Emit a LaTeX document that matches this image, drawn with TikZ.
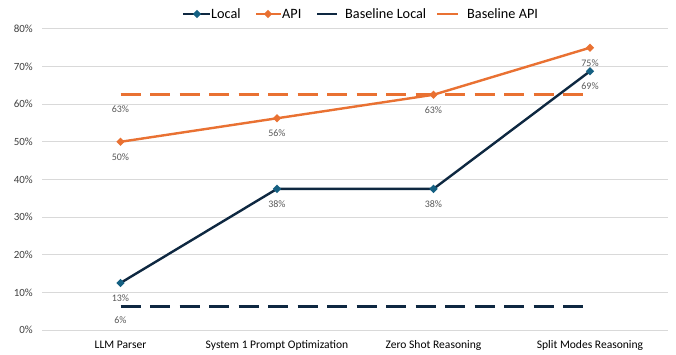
\documentclass[tikz,border=0pt]{standalone}
\usepackage{fontspec}
\setmainfont{Carlito}
\usetikzlibrary{shapes.geometric}
\definecolor{navy}{HTML}{0E2841}
\definecolor{teal}{HTML}{156082}
\definecolor{orng}{HTML}{E97132}
\definecolor{gridc}{HTML}{D9D9D9}
\definecolor{labc}{HTML}{595959}
\definecolor{axc}{HTML}{404040}
\tikzset{
  series/.style={line width=2.4bp, line join=round},
  baseline/.style={line width=2.6bp, dash pattern=on 20bp off 9.5bp},
  mk/.style={diamond, fill=#1, inner sep=0pt, minimum size=8.5bp},
  datalab/.style={font=\fontsize{10}{11}\selectfont, text=labc},
  ticklab/.style={font=\fontsize{11}{12}\selectfont, text=axc, anchor=east, inner sep=0pt},
  catlab/.style={font=\fontsize{11.6}{13}\selectfont, text=black},
  leglab/.style={font=\fontsize{14.3}{16}\selectfont, text=black, anchor=west, inner sep=0pt},
  gridline/.style={gridc, line width=0.8bp}
}
\begin{document}
\begin{tikzpicture}[x=1bp, y=-1bp]
\useasboundingbox (0,0) rectangle (676,354);
\fill[white] (0,0) rectangle (676,354);
% horizontal grid and value axis labels
\foreach \v in {0,10,...,80} {
  \pgfmathsetmacro{\yy}{330-\v*3.764}
  \draw[gridline] (42,\yy) -- (668,\yy);
  \node[ticklab] (tick\v) at (33,\yy) {\v\%};
}
% category labels
\node[catlab] (ca) at (120.5,345) {LLM Parser};
\node[catlab] (cb) at (277,345) {System 1 Prompt Optimization};
\node[catlab] (cc) at (433.5,345) {Zero Shot Reasoning};
\node[catlab] (cd) at (590,345) {Split Modes Reasoning};
% baselines
\coordinate (bl0) at (120.5,{330-6.25*3.764});
\coordinate (bl1) at (584,{330-6.25*3.764});
\coordinate (ba0) at (120.5,{330-62.5*3.764});
\coordinate (ba1) at (584,{330-62.5*3.764});
\draw[baseline, navy] (bl0) -- (bl1);
\draw[baseline, orng] (ba0) -- (ba1);
\node[datalab] (lbl) at ([yshift=-14bp]bl0) {6\%};
\node[datalab] (lba) at ([yshift=-14bp]ba0) {63\%};
% Local series
\coordinate (l1) at (120.5,{330-12.5*3.764});
\coordinate (l2) at (277,{330-37.5*3.764});
\coordinate (l3) at (433.5,{330-37.5*3.764});
\coordinate (l4) at (590,{330-68.75*3.764});
\draw[series, navy] (l1) -- (l2) -- (l3) -- (l4);
% API series
\coordinate (p1) at (120.5,{330-50*3.764});
\coordinate (p2) at (277,{330-56.25*3.764});
\coordinate (p3) at (433.5,{330-62.5*3.764});
\coordinate (p4) at (590,{330-75*3.764});
\draw[series, orng] (p1) -- (p2) -- (p3) -- (p4);
% markers and value labels
\foreach \c/\t in {l1/13, l2/38, l3/38, l4/69} {
  \node[mk=teal] (m\c) at (\c) {};
  \node[datalab] (v\c) at ([yshift=-15bp]\c) {\t\%};
}
\foreach \c/\t in {p1/50, p2/56, p3/63, p4/75} {
  \node[mk=orng] (m\c) at (\c) {};
  \node[datalab] (v\c) at ([yshift=-15bp]\c) {\t\%};
}
% legend
\coordinate (g1a) at (183,14); \coordinate (g1b) at (210,14);
\draw[series, navy] (g1a) -- (g1b);
\node[mk=teal] (g1m) at (197,14) {};
\node[leglab] (g1t) at (211,14) {Local};
\coordinate (g2a) at (256,14); \coordinate (g2b) at (281,14);
\draw[series, orng] (g2a) -- (g2b);
\node[mk=orng] (g2m) at (268,14) {};
\node[leglab] (g2t) at (282,14) {API};
\coordinate (g3a) at (317,14); \coordinate (g3b) at (337,14);
\draw[line width=2.6bp, navy] (g3a) -- (g3b);
\node[leglab] (g3t) at (345,14) {Baseline Local};
\coordinate (g4a) at (437,14); \coordinate (g4b) at (458,14);
\draw[line width=2.6bp, orng] (g4a) -- (g4b);
\node[leglab] (g4t) at (467,14) {Baseline API};
\end{tikzpicture}
\end{document}
